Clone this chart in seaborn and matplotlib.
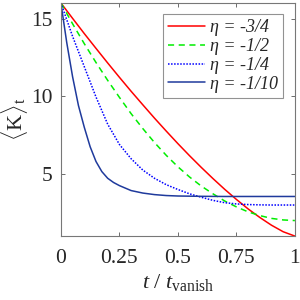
import matplotlib
matplotlib.use("Agg")
import matplotlib.pyplot as plt
import pandas as pd
import seaborn as sns

# values
t_grid = [0.0, 0.05, 0.1, 0.15, 0.2, 0.25, 0.3, 0.35, 0.4, 0.45, 0.5,
          0.55, 0.6, 0.65, 0.7, 0.75, 0.8, 0.85, 0.9, 0.95, 1.0]
k_eta_34 = [16.0, 15.01, 14.03, 13.08, 12.14, 11.22, 10.32, 9.45, 8.59, 7.76, 6.95,
            6.17, 5.42, 4.70, 4.01, 3.36, 2.75, 2.20, 1.70, 1.28, 1.0]
k_eta_12 = [16.0, 14.66, 13.38, 12.17, 11.02, 9.93, 8.88, 7.92, 7.02, 6.2, 5.46,
            4.8, 4.22, 3.72, 3.26, 2.88, 2.56, 2.32, 2.14, 2.04, 2.0]
k_eta_14 = [16.0, 13.85, 11.9, 9.95, 8.2, 6.9, 5.98, 5.25, 4.72, 4.31, 4.0,
            3.72, 3.5, 3.3, 3.15, 3.07, 3.03, 3.01, 3.0, 3.0, 3.0]
t_fast = [0.0, 0.025, 0.05, 0.075, 0.1, 0.125, 0.15, 0.175, 0.2, 0.225, 0.25,
          0.3, 0.35, 0.4, 0.45, 0.5, 0.6, 0.7, 0.8, 0.9, 1.0]
k_eta_110 = [16.0, 13.45, 11.25, 9.4, 8.0, 6.75, 5.8, 5.15, 4.72, 4.45, 4.25,
             3.93, 3.77, 3.67, 3.61, 3.58, 3.56, 3.55, 3.55, 3.55, 3.55]

labels = ["η = -3/4", "η = -1/2", "η = -1/4", "η = -1/10"]
colors = ["#ff0000", "#00ee00", "#0000ff", "#1f3a9c"]
styles = ["-", (0, (4, 3)), (0, (1, 1)), "-"]

sns.set_style("ticks")
plt.rcParams["font.family"] = ["Liberation Serif", "DejaVu Serif"]
plt.rcParams["mathtext.fontset"] = "custom"
plt.rcParams["mathtext.rm"] = "Liberation Serif"
plt.rcParams["mathtext.it"] = "Liberation Serif:italic"

fig = plt.figure(figsize=(3, 3), dpi=100)
ax = fig.add_axes([0.203, 0.213, 0.78, 0.777])

series = [(t_grid, k_eta_34), (t_grid, k_eta_12), (t_grid, k_eta_14), (t_fast, k_eta_110)]
for (tt, kk), lab, c, ls in zip(series, labels, colors, styles):
    df = pd.DataFrame({"t": tt, "K": kk})
    sns.lineplot(data=df, x="t", y="K", ax=ax, color=c, linestyle=ls,
                 linewidth=1.1, label=lab)

ax.set_xlim(0, 1)
ax.set_ylim(1, 16)
ax.set_xticks([0, 0.25, 0.5, 0.75, 1])
ax.set_xticklabels(["0", "0.25", "0.5", "0.75", "1"])
ax.set_yticks([5, 10, 15])
ax.tick_params(direction="in", length=3, width=0.6, color="#555555",
               labelsize=15.5, top=True, right=True)
ax.tick_params(axis="x", pad=9)
ax.tick_params(axis="y", pad=6)
for sp in ax.spines.values():
    sp.set_visible(True)
    sp.set_color("#777777")
    sp.set_linewidth(0.8)

ax.set_xlabel(r"$t$ / $t_{\rm vanish}$", fontsize=16, labelpad=3)
ax.set_ylabel(r"$\langle{\rm K}\rangle_{\rm t}$", fontsize=16)
ax.yaxis.set_label_coords(-0.13, 0.5)

leg = ax.legend(loc="upper right", bbox_to_anchor=(0.949, 0.953), fontsize=13,
                frameon=True, fancybox=False, handlelength=2.05, handletextpad=0.25,
                borderpad=0.3, labelspacing=0.1, borderaxespad=0)
leg.get_frame().set_edgecolor("#777777")
leg.get_frame().set_linewidth(0.8)
for txt in leg.get_texts():
    txt.set_fontstyle("italic")

fig.savefig("out.png", dpi=100)
